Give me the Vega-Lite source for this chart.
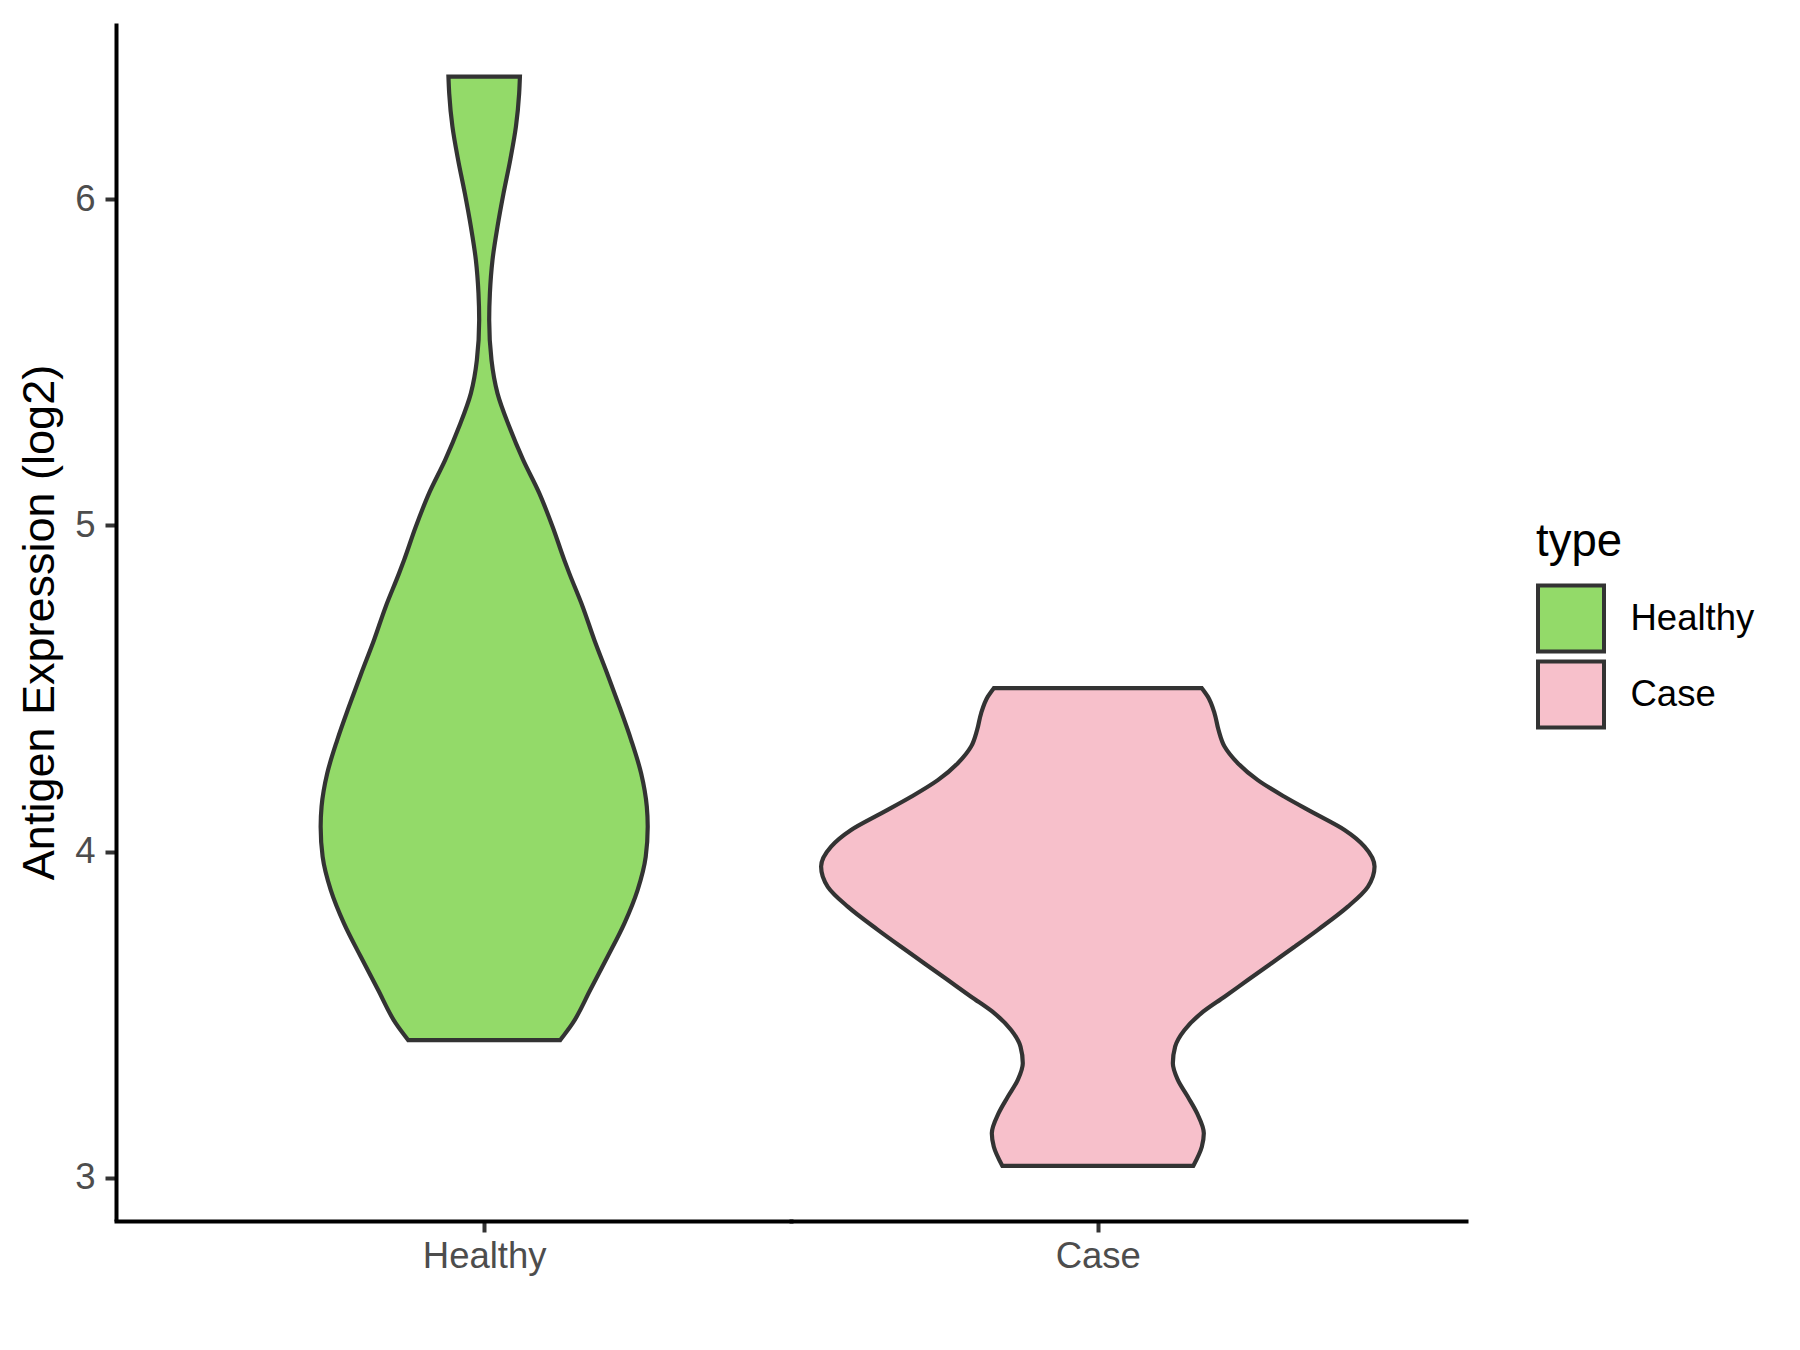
{
  "$schema": "https://vega.github.io/schema/vega-lite/v6.json",
  "background": "white",
  "padding": {"left": 17, "top": 23, "right": 10, "bottom": 10},
  "config": {"view": {"stroke": null}, "font": "Liberation Sans"},
  "data": {"values": [
    {"type": "Healthy", "expr": 3.422, "density": 0.248},
    {"type": "Healthy", "expr": 3.473, "density": 0.288},
    {"type": "Healthy", "expr": 3.576, "density": 0.346},
    {"type": "Healthy", "expr": 3.678, "density": 0.4025},
    {"type": "Healthy", "expr": 3.780, "density": 0.457},
    {"type": "Healthy", "expr": 3.882, "density": 0.500},
    {"type": "Healthy", "expr": 3.984, "density": 0.5265},
    {"type": "Healthy", "expr": 4.076, "density": 0.533},
    {"type": "Healthy", "expr": 4.138, "density": 0.530},
    {"type": "Healthy", "expr": 4.240, "density": 0.5115},
    {"type": "Healthy", "expr": 4.342, "density": 0.479},
    {"type": "Healthy", "expr": 4.444, "density": 0.441},
    {"type": "Healthy", "expr": 4.547, "density": 0.4005},
    {"type": "Healthy", "expr": 4.649, "density": 0.359},
    {"type": "Healthy", "expr": 4.751, "density": 0.321},
    {"type": "Healthy", "expr": 4.853, "density": 0.2775},
    {"type": "Healthy", "expr": 4.894, "density": 0.261},
    {"type": "Healthy", "expr": 4.996, "density": 0.223},
    {"type": "Healthy", "expr": 5.099, "density": 0.1795},
    {"type": "Healthy", "expr": 5.201, "density": 0.127},
    {"type": "Healthy", "expr": 5.303, "density": 0.0816},
    {"type": "Healthy", "expr": 5.405, "density": 0.0434},
    {"type": "Healthy", "expr": 5.507, "density": 0.0238},
    {"type": "Healthy", "expr": 5.630, "density": 0.0163},
    {"type": "Healthy", "expr": 5.712, "density": 0.0186},
    {"type": "Healthy", "expr": 5.814, "density": 0.0271},
    {"type": "Healthy", "expr": 5.916, "density": 0.0434},
    {"type": "Healthy", "expr": 6.018, "density": 0.063},
    {"type": "Healthy", "expr": 6.121, "density": 0.085},
    {"type": "Healthy", "expr": 6.223, "density": 0.1035},
    {"type": "Healthy", "expr": 6.325, "density": 0.114},
    {"type": "Healthy", "expr": 6.376, "density": 0.1165},
    {"type": "Case", "expr": 3.036, "density": 0.311},
    {"type": "Case", "expr": 3.095, "density": 0.339},
    {"type": "Case", "expr": 3.136, "density": 0.3455},
    {"type": "Case", "expr": 3.197, "density": 0.3237},
    {"type": "Case", "expr": 3.248, "density": 0.2934},
    {"type": "Case", "expr": 3.300, "density": 0.2608},
    {"type": "Case", "expr": 3.351, "density": 0.2445},
    {"type": "Case", "expr": 3.402, "density": 0.252},
    {"type": "Case", "expr": 3.453, "density": 0.2826},
    {"type": "Case", "expr": 3.504, "density": 0.3367},
    {"type": "Case", "expr": 3.555, "density": 0.413},
    {"type": "Case", "expr": 3.606, "density": 0.4889},
    {"type": "Case", "expr": 3.657, "density": 0.5649},
    {"type": "Case", "expr": 3.708, "density": 0.6411},
    {"type": "Case", "expr": 3.760, "density": 0.7171},
    {"type": "Case", "expr": 3.831, "density": 0.8149},
    {"type": "Case", "expr": 3.892, "density": 0.8801},
    {"type": "Case", "expr": 3.954, "density": 0.9019},
    {"type": "Case", "expr": 4.015, "density": 0.8693},
    {"type": "Case", "expr": 4.066, "density": 0.8041},
    {"type": "Case", "expr": 4.117, "density": 0.7063},
    {"type": "Case", "expr": 4.168, "density": 0.6085},
    {"type": "Case", "expr": 4.219, "density": 0.5215},
    {"type": "Case", "expr": 4.271, "density": 0.4563},
    {"type": "Case", "expr": 4.322, "density": 0.413},
    {"type": "Case", "expr": 4.373, "density": 0.3934},
    {"type": "Case", "expr": 4.424, "density": 0.3804},
    {"type": "Case", "expr": 4.475, "density": 0.3586},
    {"type": "Case", "expr": 4.501, "density": 0.339}
  ]},
  "spacing": 0,
  "resolve": {"scale": {"x": "independent", "y": "shared", "fill": "shared"}, "legend": {"fill": "shared"}},
  "hconcat": [
    {
      "width": 675,
      "height": 1198,
      "transform": [{"filter": "datum.type === 'Healthy'"}],
      "mark": {"type": "area", "orient": "horizontal", "interpolate": "monotone", "stroke": "#333333", "strokeWidth": 4.2, "opacity": 1},
      "encoding": {
        "y": {
          "field": "expr", "type": "quantitative",
          "scale": {"domain": [2.8672, 6.5406], "nice": false, "zero": false},
          "axis": {
            "values": [3, 4, 5, 6], "grid": false, "title": "Antigen Expression (log2)",
            "domainColor": "black", "domainWidth": 4, "tickColor": "#333333", "tickWidth": 4, "tickSize": 11,
            "labelFontSize": 36.5, "labelColor": "#4D4D4D", "labelFont": "Liberation Sans", "labelPadding": 10,
            "titleFontSize": 45, "titleColor": "black", "titleFont": "Liberation Sans", "titleFontWeight": "normal",
            "titleX": -63, "titleY": 599, "titleAngle": -90, "titleBaseline": "alphabetic", "titleAlign": "center"
          }
        },
        "x": {
          "field": "density", "type": "quantitative", "stack": "center", "impute": null,
          "scale": {"domain": [-0.3335, 0.7665], "nice": false, "zero": false},
          "axis": {"values": [0.2665], "labelExpr": "'Healthy'", "labelFontSize": 36.5, "labelColor": "#4D4D4D", "labelFont": "Liberation Sans", "labelPadding": 6, "title": null, "grid": false, "domainColor": "black", "domainWidth": 4, "domainCap": "square", "tickColor": "#333333", "tickWidth": 4, "tickSize": 11}
        },
        "fill": {
          "field": "type", "type": "nominal",
          "scale": {"domain": ["Healthy", "Case"], "range": ["#93DA69", "#F7C0CB"]},
          "legend": {
            "title": "type", "orient": "none", "legendX": 1420, "legendY": 497, "padding": 0,
            "titleFontSize": 45.5, "titleFont": "Liberation Sans", "titleFontWeight": "normal", "titleColor": "black", "titlePadding": 18,
            "labelFontSize": 36.5, "labelFont": "Liberation Sans", "labelColor": "black", "labelOffset": 24.5,
            "symbolType": "square", "symbolSize": 4356, "symbolStrokeColor": "#333333", "symbolStrokeWidth": 4, "symbolOpacity": 1, "rowPadding": -18
          }
        }
      }
    },
    {
      "width": 675,
      "height": 1198,
      "transform": [{"filter": "datum.type === 'Case'"}],
      "mark": {"type": "area", "orient": "horizontal", "interpolate": "monotone", "stroke": "#333333", "strokeWidth": 4.2, "opacity": 1},
      "encoding": {
        "y": {
          "field": "expr", "type": "quantitative",
          "scale": {"domain": [2.8672, 6.5406], "nice": false, "zero": false},
          "axis": null
        },
        "x": {
          "field": "density", "type": "quantitative", "stack": "center", "impute": null,
          "scale": {"domain": [-0.04905, 1.05095], "nice": false, "zero": false},
          "axis": {"values": [0.45095], "labelExpr": "'Case'", "labelFontSize": 36.5, "labelColor": "#4D4D4D", "labelFont": "Liberation Sans", "labelPadding": 6, "title": null, "grid": false, "domainColor": "black", "domainWidth": 4, "domainCap": "square", "tickColor": "#333333", "tickWidth": 4, "tickSize": 11}
        },
        "fill": {
          "field": "type", "type": "nominal",
          "scale": {"domain": ["Healthy", "Case"], "range": ["#93DA69", "#F7C0CB"]}
        }
      }
    }
  ]
}
